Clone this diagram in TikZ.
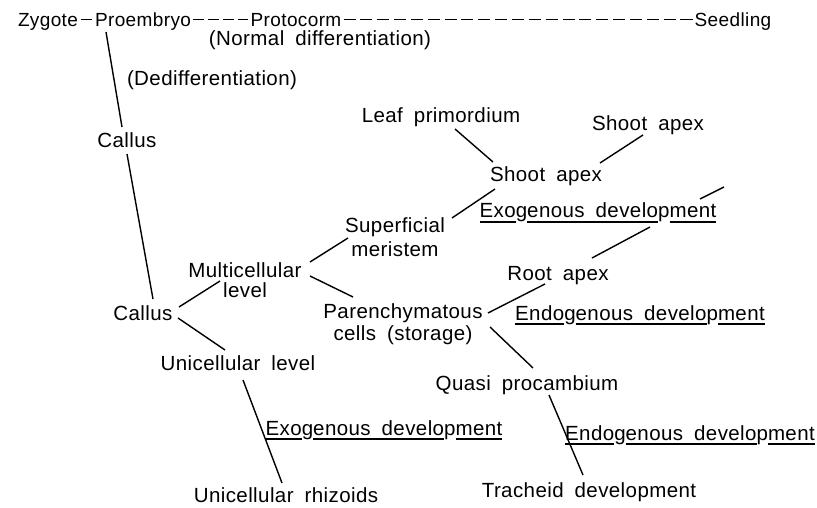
\documentclass[tikz,border=0pt]{standalone}
\usepackage{fontspec}
\usetikzlibrary{calc}
\setmainfont{Liberation Sans}[WordSpace=1.8,LetterSpace=2]
% underlined run of text, broken where descenders hang
\newcommand\ulseg[1]{\vtop{\hbox{#1}\kern3pt\hrule height 1.3pt}}
% two centred lines, baseline on the first one
\newcommand\twolines[3]{\vtop{\baselineskip=#1pt\halign{\hfil##\hfil\cr #2\cr #3\cr}}}
\begin{document}
\begin{tikzpicture}[x=1pt,y=-1pt,
  lbl/.style={anchor=base,inner sep=0pt,font=\fontsize{20.5}{23}\selectfont},
  toplbl/.style={lbl,font=\fontsize{19}{22}\selectfont},
  link/.style={line width=1.4pt}]
\useasboundingbox (0,0) rectangle (817,508);

% top line: normal development
\node[toplbl] (zyg)   at (48,27)  {Zygote};
\node[toplbl] (pro)   at (143,27) {Proembryo};
\node[toplbl] (prot)  at (296,27) {Protocorm};
\node[toplbl] (seed)  at (733,27) {Seedling};
\node[lbl] (norm)  at (320,46) {(Normal differentiation)};
\node[lbl] (dedif) at (212,86) {(Dedifferentiation)};

% callus branch
\node[lbl] (cal1)  at (127,148) {Callus};
\node[lbl] (cal2)  at (143,320) {Callus};
\node[lbl] (multi) at (245,277) {\twolines{20}{Multicellular}{level}};
\node[lbl] (uni)   at (238,370) {Unicellular level};
\node[lbl] (rhiz)  at (286,502) {Unicellular rhizoids};
\node[lbl] (exo2)  at (384,435) {\ulseg{Exo}g\ulseg{enous develo}p\ulseg{ment}};

% multicellular branch
\node[lbl] (sup)    at (395,233) {\twolines{24}{Superficial}{meristem}};
\node[lbl] (par)    at (403,318) {\twolines{22}{Parenchymatous}{cells (storage)}};
\node[lbl] (leaf)   at (441,123) {Leaf primordium};
\node[lbl] (shoot1) at (546,182) {Shoot apex};
\node[lbl] (shoot2) at (648,131) {Shoot apex};
\node[lbl] (exo1)   at (598,218) {\ulseg{Exo}g\ulseg{enous develo}p\ulseg{ment}};
\node[lbl] (root)   at (558,280) {Root apex};
\node[lbl] (endo1)  at (640,320) {\ulseg{Endo}g\ulseg{enous develo}p\ulseg{ment}};
\node[lbl] (quasi)  at (527,390) {Quasi procambium};
\node[lbl] (endo2)  at (690,440) {\ulseg{Endo}g\ulseg{enous develo}p\ulseg{ment}};
\node[lbl] (trach)  at (589,497) {Tracheid development};
\coordinate (open) at (724,187);

% connectors of the top line; dashed runs hold a whole number of dashes
\draw[link] ([shift={(3,-7.5)}]zyg.base east) -- ([shift={(-3,-7.5)}]pro.base west);
\draw[link] let \p1=($([shift={(-2,0)}]prot.base west)-([shift={(2,0)}]pro.base east)$),
      \n1={veclen(\x1,\y1)}, \n2={\n1/(3.5*4-1)}, \n3={2.5*\n2} in
  [dash pattern=on \n3 off \n2]
  ([shift={(2,-7.5)}]pro.base east) -- ([shift={(-2,-7.5)}]prot.base west);
\draw[link] let \p1=($([shift={(-2,0)}]seed.base west)-([shift={(2,0)}]prot.base east)$),
      \n1={veclen(\x1,\y1)}, \n2={\n1/(3.5*21-1)}, \n3={2.5*\n2} in
  [dash pattern=on \n3 off \n2]
  ([shift={(2,-7.5)}]prot.base east) -- ([shift={(-2,-7.5)}]seed.base west);

% connectors of the callus tree
\draw[link] ([shift={(-37,5)}]pro.base)   -- ([shift={(-5,-21)}]cal1.base);
\draw[link] ([shift={(0,6)}]cal1.base)    -- ([shift={(10,-21)}]cal2.base);
\draw[link] ([shift={(36,-13)}]cal2.base) -- ([shift={(-25,4)}]multi.base);
\draw[link] ([shift={(35,-2)}]cal2.base)  -- ([shift={(-13,-20)}]uni.base);
\draw[link] ([shift={(5,10)}]uni.base)    -- ([shift={(-4,-19)}]rhiz.base);
\draw[link] ([shift={(65,-15)}]multi.base) -- ([shift={(-47,5)}]sup.base);
\draw[link] ([shift={(65,-1)}]multi.base)  -- ([shift={(-50,-21)}]par.base);
\draw[link] ([shift={(57,-15)}]sup.base)   -- ([shift={(-51,7)}]shoot1.base);
\draw[link] ([shift={(14,6)}]leaf.base)    -- ([shift={(-53,-20)}]shoot1.base);
\draw[link] ([shift={(54,-19)}]shoot1.base) -- ([shift={(-5,4)}]shoot2.base);
\draw[link] ([shift={(85,-5)}]par.base)    -- ([shift={(-13,4)}]root.base);
\draw[link] ([shift={(34,-22)}]root.base)  -- ([shift={(52,9)}]exo1.base);
\draw[link] ([shift={(102,-19)}]exo1.base) -- (open);
\draw[link] ([shift={(87,9)}]par.base)     -- ([shift={(6,-22)}]quasi.base);
\draw[link] ([shift={(22,5)}]quasi.base)   -- ([shift={(-6,-22)}]trach.base);
\end{tikzpicture}
\end{document}
